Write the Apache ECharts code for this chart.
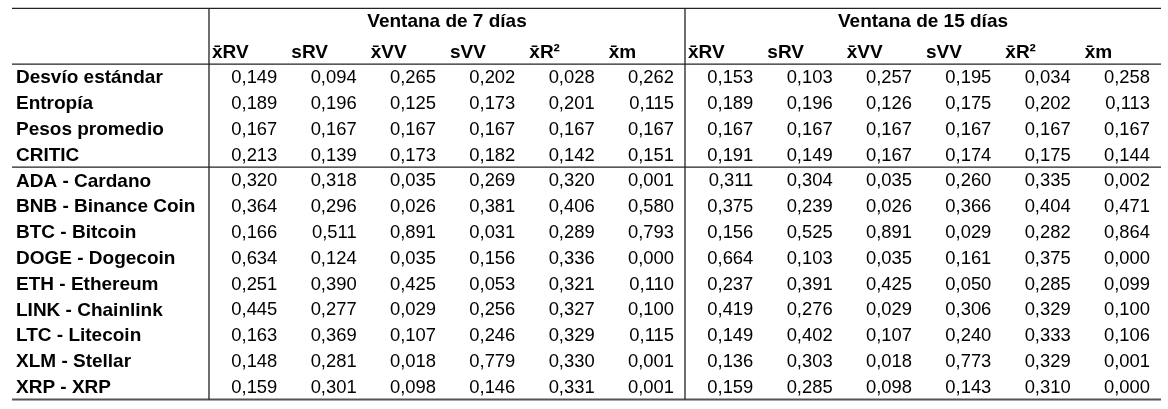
<!DOCTYPE html>
<html>
<head>
<meta charset="utf-8">
<script src="https://cdn.jsdelivr.net/npm/echarts@6/dist/echarts.min.js"></script>
<style>
  html, body { margin: 0; padding: 0; background: #fff; }
  #main { width: 1168px; height: 409px; }
</style>
</head>
<body>
<div id="main"></div>
<script>
var ventanas = ['Ventana de 7 días', 'Ventana de 15 días'];
var columnas = ['x\u0304RV', 'sRV', 'x\u0304VV', 'sVV', 'x\u0304R\u00b2', 'x\u0304m'];
var filas = ['Desvío estándar', 'Entropía', 'Pesos promedio', 'CRITIC',
  'ADA - Cardano', 'BNB - Binance Coin', 'BTC - Bitcoin', 'DOGE - Dogecoin',
  'ETH - Ethereum', 'LINK - Chainlink', 'LTC - Litecoin', 'XLM - Stellar', 'XRP - XRP'];

// ventana de 7 dias
var ventana7 = [
  [0.149, 0.094, 0.265, 0.202, 0.028, 0.262],
  [0.189, 0.196, 0.125, 0.173, 0.201, 0.115],
  [0.167, 0.167, 0.167, 0.167, 0.167, 0.167],
  [0.213, 0.139, 0.173, 0.182, 0.142, 0.151],
  [0.320, 0.318, 0.035, 0.269, 0.320, 0.001],
  [0.364, 0.296, 0.026, 0.381, 0.406, 0.580],
  [0.166, 0.511, 0.891, 0.031, 0.289, 0.793],
  [0.634, 0.124, 0.035, 0.156, 0.336, 0.000],
  [0.251, 0.390, 0.425, 0.053, 0.321, 0.110],
  [0.445, 0.277, 0.029, 0.256, 0.327, 0.100],
  [0.163, 0.369, 0.107, 0.246, 0.329, 0.115],
  [0.148, 0.281, 0.018, 0.779, 0.330, 0.001],
  [0.159, 0.301, 0.098, 0.146, 0.331, 0.001]
];

// ventana de 15 dias
var ventana15 = [
  [0.153, 0.103, 0.257, 0.195, 0.034, 0.258],
  [0.189, 0.196, 0.126, 0.175, 0.202, 0.113],
  [0.167, 0.167, 0.167, 0.167, 0.167, 0.167],
  [0.191, 0.149, 0.167, 0.174, 0.175, 0.144],
  [0.311, 0.304, 0.035, 0.260, 0.335, 0.002],
  [0.375, 0.239, 0.026, 0.366, 0.404, 0.471],
  [0.156, 0.525, 0.891, 0.029, 0.282, 0.864],
  [0.664, 0.103, 0.035, 0.161, 0.375, 0.000],
  [0.237, 0.391, 0.425, 0.050, 0.285, 0.099],
  [0.419, 0.276, 0.029, 0.306, 0.329, 0.100],
  [0.149, 0.402, 0.107, 0.240, 0.333, 0.106],
  [0.136, 0.303, 0.018, 0.773, 0.329, 0.001],
  [0.159, 0.285, 0.098, 0.143, 0.310, 0.000]
];

var FONT = '"Liberation Sans", Arial, sans-serif';
var X_MIN = -2.483, X_MAX = 12, Y_MIN = -2.70, Y_MAX = 12.45;

function fmt(v) { return v.toFixed(3).replace('.', ','); }

// celdas: [columna, fila]
var celdas = [], textos = [];
filas.forEach(function (f, r) {
  ventana7[r].forEach(function (v, c) { celdas.push([c, r]); textos.push(fmt(v)); });
  ventana15[r].forEach(function (v, c) { celdas.push([c + 6, r]); textos.push(fmt(v)); });
});

var encabezados = [];
ventanas.forEach(function (w, b) {
  columnas.forEach(function (c, i) { encabezados.push([b * 6 + i, -0.97]); });
});

var lineasH = [[X_MIN, X_MAX, Y_MIN], [X_MIN, X_MAX, -0.54], [X_MIN, X_MAX, 3.45]];
var lineasV = [[0, Y_MIN, Y_MAX], [6, Y_MIN, Y_MAX]];

var myChart = echarts.init(document.getElementById('main'), null, { renderer: 'canvas' });

myChart.setOption({
  animation: false,
  grid: { left: 12, right: 7, top: 8.3, bottom: 9.5 },
  xAxis: { type: 'value', min: X_MIN, max: X_MAX, show: false },
  yAxis: { type: 'value', min: Y_MIN, max: Y_MAX, inverse: true, show: false },
  series: [
    {
      // valores
      type: 'custom',
      data: celdas,
      renderItem: function (params, api) {
        var p = api.coord([api.value(0) + 1, api.value(1)]);
        return {
          type: 'text',
          style: {
            x: p[0] - 11, y: p[1], text: textos[params.dataIndex],
            align: 'right', verticalAlign: 'middle',
            fontFamily: FONT, fontSize: 18.4, fill: '#000'
          }
        };
      }
    },
    {
      // nombres de filas
      type: 'custom',
      data: filas.map(function (f, r) { return [X_MIN, r]; }),
      renderItem: function (params, api) {
        var p = api.coord([api.value(0), api.value(1)]);
        return {
          type: 'text',
          style: {
            x: p[0] + 4, y: p[1], text: filas[params.dataIndex],
            align: 'left', verticalAlign: 'middle',
            fontFamily: FONT, fontSize: 19, fontWeight: 'bold', fill: '#000'
          }
        };
      }
    },
    {
      // encabezados de columnas
      type: 'custom',
      data: encabezados,
      renderItem: function (params, api) {
        var p = api.coord([api.value(0), api.value(1)]);
        return {
          type: 'text',
          style: {
            x: p[0] + 3, y: p[1], text: columnas[params.dataIndex % 6],
            align: 'left', verticalAlign: 'middle',
            fontFamily: FONT, fontSize: 19, fontWeight: 'bold', fill: '#000'
          }
        };
      }
    },
    {
      // titulos de ventanas
      type: 'custom',
      data: [[3, -2.18], [9, -2.18]],
      renderItem: function (params, api) {
        var p = api.coord([api.value(0), api.value(1)]);
        return {
          type: 'text',
          style: {
            x: p[0], y: p[1], text: ventanas[params.dataIndex],
            align: 'center', verticalAlign: 'middle',
            fontFamily: FONT, fontSize: 19, fontWeight: 'bold', fill: '#000'
          }
        };
      }
    },
    {
      // lineas horizontales
      type: 'custom',
      data: lineasH,
      renderItem: function (params, api) {
        var a = api.coord([api.value(0), api.value(2)]);
        var b = api.coord([api.value(1), api.value(2)]);
        return {
          type: 'line',
          shape: { x1: a[0], y1: a[1], x2: b[0], y2: b[1] },
          style: { stroke: '#222', lineWidth: 1.3 }
        };
      }
    },
    {
      // linea inferior
      type: 'custom',
      data: [[X_MIN, X_MAX, Y_MAX]],
      renderItem: function (params, api) {
        var a = api.coord([api.value(0), api.value(2)]);
        var b = api.coord([api.value(1), api.value(2)]);
        return {
          type: 'line',
          shape: { x1: a[0], y1: a[1], x2: b[0], y2: b[1] },
          style: { stroke: '#555', lineWidth: 2 }
        };
      }
    },
    {
      // lineas verticales
      type: 'custom',
      data: lineasV,
      renderItem: function (params, api) {
        var a = api.coord([api.value(0), api.value(1)]);
        var b = api.coord([api.value(0), api.value(2)]);
        return {
          type: 'line',
          shape: { x1: a[0], y1: a[1], x2: b[0], y2: b[1] },
          style: { stroke: '#222', lineWidth: 1.3 }
        };
      }
    }
  ]
});
</script>
</body>
</html>
